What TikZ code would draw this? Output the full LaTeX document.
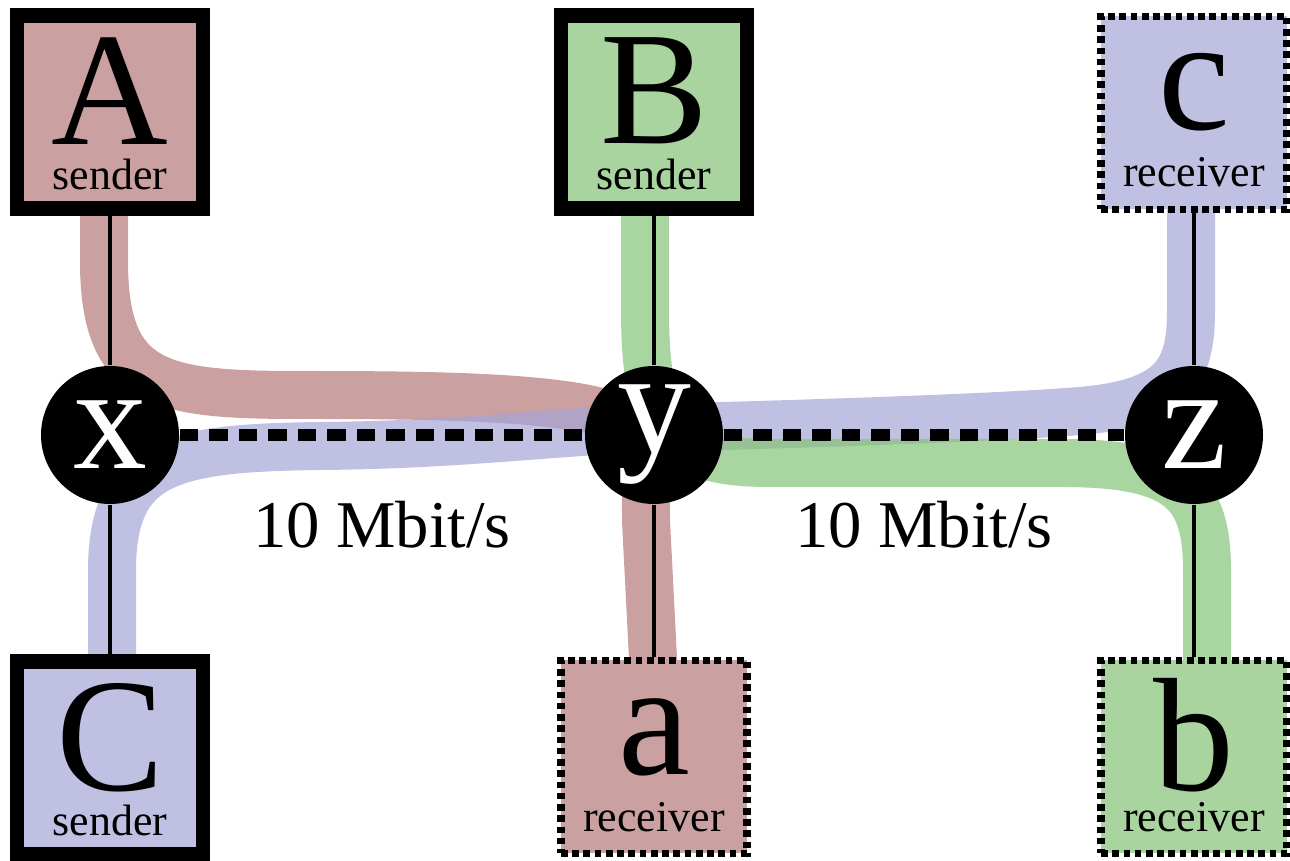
\documentclass[tikz,border=0pt]{standalone}
\usepackage{fontspec}
\setmainfont{Liberation Serif}
\usetikzlibrary{backgrounds}

\definecolor{redfill}{RGB}{202,160,160}
\definecolor{greenfill}{RGB}{169,212,160}
\definecolor{bluefill}{RGB}{192,192,227}
\definecolor{redflow}{RGB}{181,119,119}
\definecolor{greenflow}{RGB}{133,195,119}
\definecolor{blueflow}{RGB}{165,165,214}

\tikzset{
  host/.style={draw, line width=4pt, minimum width=1.86cm, minimum height=1.93cm,
    inner sep=0pt},
  sink/.style={host, line width=2pt, dash pattern=on 1.9pt off 1.3pt},
  hostname/.style={inner sep=0pt, font=\fontsize{46}{46}\selectfont},
  router/.style={circle, fill=black, text=white, minimum size=1.38cm, inner sep=0pt,
    font=\fontsize{42}{42}\selectfont},
  role/.style={anchor=base, font=\fontsize{12.5}{12.5}\selectfont},
  wire/.style={line width=0.9pt},
  link/.style={line width=3.3pt, dash pattern=on 5.2pt off 3.2pt},
  rate/.style={anchor=base, yshift=-1.13cm, font=\fontsize{19}{19}\selectfont},
  flow/.style={line width=0.48cm, opacity=0.7, line join=round}
}

\begin{document}
\begin{tikzpicture}
  \useasboundingbox (0,0) rectangle (12.9,8.61);

  % hosts and routers
  \node (A) at (1.10,7.49) [host, fill=redfill] {};
  \node (B) at (6.54,7.49) [host, fill=greenfill] {};
  \node (c) at (11.94,7.48) [sink, fill=bluefill] {};
  \node (x) at (1.10,4.26) [router] {x};
  \node (y) at (6.54,4.26) [router] {y};
  \node (z) at (11.94,4.26) [router] {z};
  \node (C) at (1.10,1.03) [host, fill=bluefill] {};
  \node (a) at (6.54,1.04) [sink, fill=redfill] {};
  \node (b) at (11.94,1.04) [sink, fill=greenfill] {};

  \node (Aname) at ([yshift=0.21cm]A.center) [hostname] {A};
  \node (Bname) at ([yshift=0.21cm]B.center) [hostname] {B};
  \node (cname) at ([yshift=0.21cm]c.center) [hostname] {c};
  \node (Cname) at ([yshift=0.2cm]C.center) [hostname] {C};
  \node (aname) at ([yshift=0.2cm]a.center) [hostname] {a};
  \node (bname) at ([yshift=0.22cm]b.center) [hostname] {b};

  \node (Arole) at ([yshift=0.26cm]A.south) [role] {sender};
  \node (Brole) at ([yshift=0.26cm]B.south) [role] {sender};
  \node (crole) at ([yshift=0.26cm]c.south) [role] {receiver};
  \node (Crole) at ([yshift=0.26cm]C.south) [role] {sender};
  \node (arole) at ([yshift=0.26cm]a.south) [role] {receiver};
  \node (brole) at ([yshift=0.26cm]b.south) [role] {receiver};

  % access wires
  \draw[wire] (A) -- (x);
  \draw[wire] (x) -- (C);
  \draw[wire] (B) -- (y);
  \draw[wire] (y) -- (a);
  \draw[wire] (c) -- (z);
  \draw[wire] (z) -- (b);

  % bottleneck links
  \draw[link] (x) -- (y) node[rate, midway] (xyrate) {10 Mbit/s};
  \draw[link] (y) -- (z) node[rate, midway] (yzrate) {10 Mbit/s};

  % flows
  \begin{scope}[on background layer]
    \draw[flow, redflow] ([xshift=-0.06cm]A.center) -- (1.04,6.0)
      .. controls (1.04,4.75) and (1.6,4.66) .. (3.0,4.66)
      .. controls (4.6,4.66) and (6.1,4.64) .. (6.4,4.3)
      .. controls (6.45,4.1) and (6.46,3.8) .. (6.46,3.4)
      -- ([xshift=0.04cm]a.center);
    \draw[flow, blueflow] ([xshift=0.02cm]C.center) -- (1.12,2.9)
      .. controls (1.12,4.0) and (1.7,4.13) .. (3.2,4.15)
      .. controls (4.6,4.16) and (5.6,4.3) .. (6.55,4.33)
      .. controls (7.6,4.36) and (9.8,4.42) .. (10.8,4.5)
      .. controls (11.75,4.58) and (11.91,4.9) .. (11.91,5.5)
      -- ([xshift=-0.03cm]c.center);
    \draw[flow, greenflow] ([xshift=-0.09cm]B.center) -- (6.45,5.5)
      .. controls (6.45,4.25) and (6.75,3.98) .. (7.7,3.98)
      -- (10.6,3.98)
      .. controls (11.8,3.98) and (12.07,3.7) .. (12.07,2.9)
      -- ([xshift=0.13cm]b.center);
  \end{scope}
\end{tikzpicture}
\end{document}
